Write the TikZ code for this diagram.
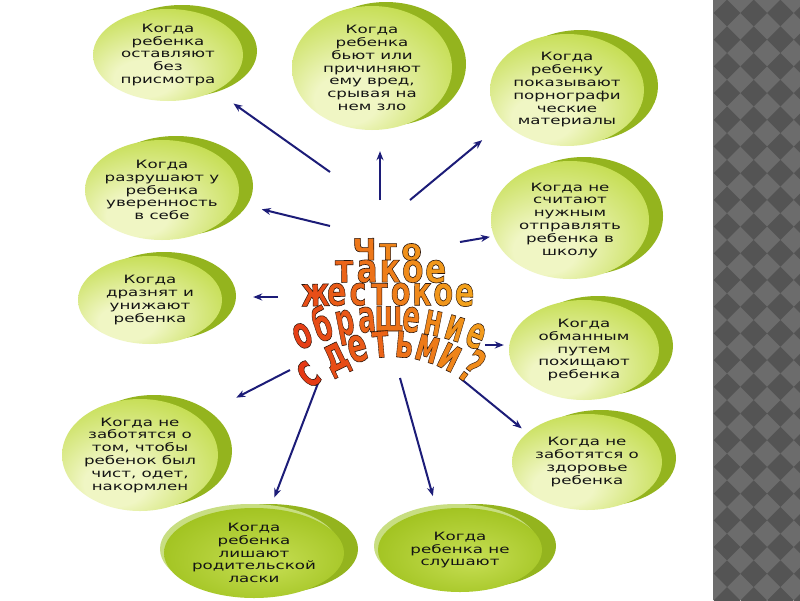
\documentclass[tikz,border=0pt]{standalone}
\usepackage{fontspec}
\usepackage{tikz}
\usetikzlibrary{shapes.geometric, arrows.meta, shadows}
\newfontfamily\bubblefont[FakeStretch=1.45]{DejaVu Sans}
\newfontfamily\titlefont{DejaVu Sans}
\definecolor{bubblelight}{RGB}{240, 246, 196}
\definecolor{bubblemid}{RGB}{198, 222, 84}
\definecolor{bubbledark}{RGB}{160, 194, 30}
\definecolor{bubbleedge}{RGB}{148, 180, 30}
\definecolor{bubblerim}{RGB}{200, 222, 130}
\definecolor{bubbletext}{RGB}{20, 20, 20}
\definecolor{arrowblue}{RGB}{28, 28, 120}
\definecolor{stripgray}{RGB}{108, 108, 108}
\definecolor{tilegray}{RGB}{84, 84, 84}
\definecolor{wared}{RGB}{225, 30, 20}
\definecolor{wayellow}{RGB}{250, 215, 30}
\pgfdeclareradialshading{bubbleshade}{\pgfpoint{-10bp}{-16bp}}{color(0bp)=(bubblelight); color(10bp)=(bubblelight); color(32bp)=(bubblemid); color(50bp)=(bubbledark)}
\pgfdeclareradialshading{flatshade}{\pgfpoint{4bp}{-6bp}}{color(0bp)=(bubblemid); color(30bp)=(bubbledark); color(50bp)=(bubbleedge)}
\newcommand{\tile}[2]{
\fill[tilegray] (#1-13.3,#2) -- (#1,#2-13.3) -- (#1+13.3,#2) -- (#1,#2+13.3) -- cycle;
}
% filled letter with a thin dark outline
\newcommand{\wa}[2]{\textcolor{#1}{\special{pdf:literal direct 2 Tr 0.6 w 0.16 0.08 0.04 RG}#2\special{pdf:literal direct 0 Tr}}}
% name, centre x, centre y, radius, first angle, angle step, size, xscale, letters
\newcommand{\arcword}[9]{
\foreach \ch [count=\k from 0] in {#9}
{
    \pgfmathsetmacro{\ang}{#5+\k*#6}
    \pgfmathsetmacro{\lx}{#2+#4*sin(\ang)}
    \pgfmathsetmacro{\ly}{#3-#4*cos(\ang)}
    \pgfmathtruncatemacro{\mixp}{max(0,min(100,20+0.3*(\lx-290)+0.15*(300-\ly)))}
    \node[letter, rotate=-\ang, xscale=#8, font=\titlefont\bfseries\fontsize{#7}{#7}\selectfont] (#1-\k) at (\lx,\ly) {\wa{wayellow!\mixp!wared}{\ch}};
}
}

\begin{document}
\begin{tikzpicture}[x=1pt, y=-1pt,
    bubble/.style={ellipse, shade, shading=bubbleshade, inner sep=-6pt, align=center,
        font=\bubblefont\fontsize{11.5}{12.8}\selectfont, text=bubbletext,
        drop shadow={shadow xshift=14pt, shadow yshift=4pt, fill=bubbleedge, opacity=1}},
    flatbubble/.style={bubble, shading=flatshade,
        drop shadow={shadow xshift=-4pt, shadow yshift=4pt, fill=bubblerim, opacity=1}},
    arrow/.style={draw=arrowblue, line width=2pt, -{Stealth[length=9pt, width=7pt]}},
    letter/.style={inner sep=0pt, anchor=base}]
    \useasboundingbox (0,0) rectangle (800,600);
    \fill[white] (0,0) rectangle (800,600);

    % patterned strip
    \fill[stripgray] (713,0) rectangle (800,600);
    \begin{scope}
        \clip (713,0) rectangle (800,600);
        \foreach \i in {0,...,3}
            \foreach \j in {-1,...,23}
            {
                \tile{727+26.7*\i}{13+26.7*\j}
            }
    \end{scope}

    \node[bubble, minimum width=150pt, minimum height=92pt] (e1) at (168,55) {Когда\\ребенка\\оставляют\\без\\присмотра};
    \node[bubble, minimum width=160pt, minimum height=124pt] (e2) at (372,68) {Когда\\ребенка\\бьют или\\причиняют\\ему вред,\\срывая на\\нем зло};
    \node[bubble, minimum width=154pt, minimum height=112pt] (e3) at (567,90) {Когда\\ребенку\\показывают\\порнографи\\ческие\\материалы};
    \node[bubble, minimum width=154pt, minimum height=100pt] (e4) at (162,190) {Когда\\разрушают у\\ребенка\\уверенность\\в себе};
    \node[bubble, minimum width=158pt, minimum height=118pt] (e5) at (570,220) {Когда не\\считают\\нужным\\отправлять\\ребенка в\\школу};
    \node[bubble, minimum width=144pt, minimum height=88pt] (e6) at (150,300) {Когда\\дразнят и\\унижают\\ребенка};
    \node[bubble, minimum width=150pt, minimum height=100pt] (e7) at (584,350) {Когда\\обманным\\путем\\похищают\\ребенка};
    \node[bubble, minimum width=156pt, minimum height=112pt] (e8) at (140,455) {Когда не\\заботятся о\\том, чтобы\\ребенок был\\чист, одет,\\накормлен};
    \node[bubble, minimum width=150pt, minimum height=96pt] (e9) at (587,462) {Когда не\\заботятся о\\здоровье\\ребенка};
    \node[flatbubble, minimum width=180pt, minimum height=90pt] (e10) at (254,553) {Когда\\ребенка\\лишают\\родительской\\ласки};
    \node[flatbubble, minimum width=164pt, minimum height=84pt] (e11) at (460,550) {Когда\\ребенка не\\слушают};

    \coordinate (t1) at (330,172);
    \coordinate (t2) at (380,200);
    \coordinate (t3) at (410,200);
    \coordinate (t4) at (330,226);
    \coordinate (t5) at (460,242);
    \coordinate (t6) at (278,297);
    \coordinate (t7) at (485,345);
    \coordinate (t8) at (290,370);
    \coordinate (t9) at (460,378);
    \coordinate (t10) at (320,378);
    \coordinate (t11) at (400,378);
    \draw[arrow, shorten >=22pt] (t1) -- (e1.323);
    \draw[arrow, shorten >=21pt] (t2) -- (e2.south -| t2);
    \draw[arrow, shorten >=28pt] (t3) -- (e3.207);
    \draw[arrow, shorten >=26pt] (t4) -- (e4.350);
    \draw[arrow, shorten >=4pt] (t5) -- (e5.192);
    \draw[arrow, shorten >=31pt] (t6) -- (e6.east |- t6);
    \draw[arrow, shorten >=5pt] (t7) -- (e7.west |- t7);
    \draw[arrow, shorten >=43pt] (t8) -- (e8.33);
    \draw[arrow, shorten >=7pt] (t9) -- (e9.154);
    \draw[arrow, shorten >=12pt] (t10) -- (e10.70);
    \draw[arrow, shorten >=14pt] (t11) -- (e11.120);

    % title
    \arcword{w1}{388}{3260}{3000}{-0.449}{0.449}{30}{1.0}{Ч,т,о}
    \arcword{w2}{390}{3282}{3000}{-0.871}{0.4354}{40}{0.78}{т,а,к,о,е}
    \arcword{w3}{390}{3305}{3000}{-1.420}{0.4058}{40}{0.72}{ж,е,с,т,о,к,о,е}
    \arcword{w4}{389}{546}{215}{-22.4}{5.6}{45}{0.58}{о,б,р,а,щ,е,н,и,е}
    \arcword{w5}{392}{474}{117}{-40}{0}{48}{0.6}{с}
    \arcword{w6}{392}{474}{117}{-25.8}{10.4}{48}{0.6}{д,е,т,ь,м,и,?}
\end{tikzpicture}
\end{document}
